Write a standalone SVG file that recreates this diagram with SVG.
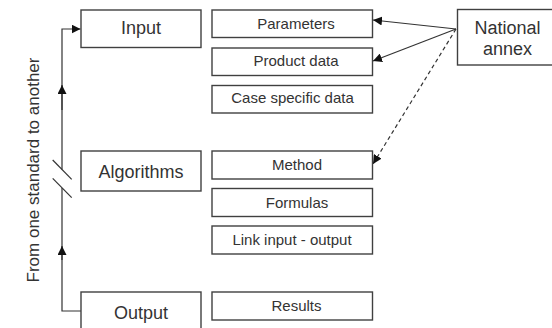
<svg xmlns="http://www.w3.org/2000/svg" width="552" height="328" viewBox="0 0 552 328">
<defs>
<style>
.box{fill:#fff;stroke:#404040;stroke-width:1.4}
.t{font-family:"Liberation Sans",Arial,sans-serif;fill:#333;text-anchor:middle}
.big{font-size:18px}
.sm{font-size:15px}
.ln{fill:none;stroke:#333;stroke-width:1.2}
.dash{stroke-dasharray:4,3}
</style>
<marker id="ah" viewBox="0 0 10 10" refX="10" refY="5" markerWidth="9" markerHeight="9" markerUnits="userSpaceOnUse" orient="auto">
<path d="M0,0 L10,5 L0,10 z" fill="#111"/>
</marker>
</defs>
<rect width="552" height="328" fill="#fff"/>
<g id="connectors">
<path class="ln" d="M81,311 H62 V188"/>
<path class="ln" d="M62,169.5 V29 H80.5" marker-end="url(#ah)"/>
<path class="ln" d="M62,260 V246" marker-end="url(#ah)"/>
<path class="ln" d="M62,110 V85" marker-end="url(#ah)"/>
<line class="ln" x1="52.7" y1="160" x2="71.7" y2="179.3"/>
<line class="ln" x1="52.7" y1="178.3" x2="71.7" y2="197.7"/>
<line class="ln" x1="456" y1="29" x2="373" y2="20" marker-end="url(#ah)"/>
<line class="ln" x1="456" y1="29" x2="373" y2="61" marker-end="url(#ah)"/>
<line class="ln dash" x1="456" y1="29" x2="373" y2="164" marker-end="url(#ah)"/>
</g>
<text class="t" style="font-size:17px" transform="translate(39,170) rotate(-90)">From one standard to another</text>
<g id="input"><rect class="box" x="81" y="10" width="120" height="37.5"/><text class="t big" x="141" y="33.5">Input</text></g>
<g id="algorithms"><rect class="box" x="81" y="151" width="120" height="40"/><text class="t big" x="141" y="177.5">Algorithms</text></g>
<g id="output"><rect class="box" x="81" y="292" width="120" height="40"/><text class="t big" x="141" y="319">Output</text></g>
<g id="parameters"><rect class="box" x="212" y="10" width="160.5" height="27.5"/><text class="t sm" x="296" y="28.5">Parameters</text></g>
<g id="product"><rect class="box" x="212" y="48" width="160.5" height="27.5"/><text class="t sm" x="296" y="66">Product data</text></g>
<g id="case"><rect class="box" x="212" y="85.5" width="160.5" height="27.5"/><text class="t sm" x="292.5" y="103">Case specific data</text></g>
<g id="method"><rect class="box" x="212" y="151" width="160.5" height="28"/><text class="t sm" x="297" y="169.5">Method</text></g>
<g id="formulas"><rect class="box" x="212" y="188.5" width="160.5" height="28"/><text class="t sm" x="297" y="207.5">Formulas</text></g>
<g id="link"><rect class="box" x="212" y="226" width="160.5" height="28"/><text class="t sm" x="292" y="244.5">Link input - output</text></g>
<g id="results"><rect class="box" x="212" y="292" width="160.5" height="28"/><text class="t sm" x="296.5" y="310.5">Results</text></g>
<g id="national"><rect class="box" x="457.5" y="9.5" width="100" height="55.5"/><text class="t big" x="507.5" y="33.5">National</text><text class="t big" x="507.5" y="54.5">annex</text></g>
</svg>
